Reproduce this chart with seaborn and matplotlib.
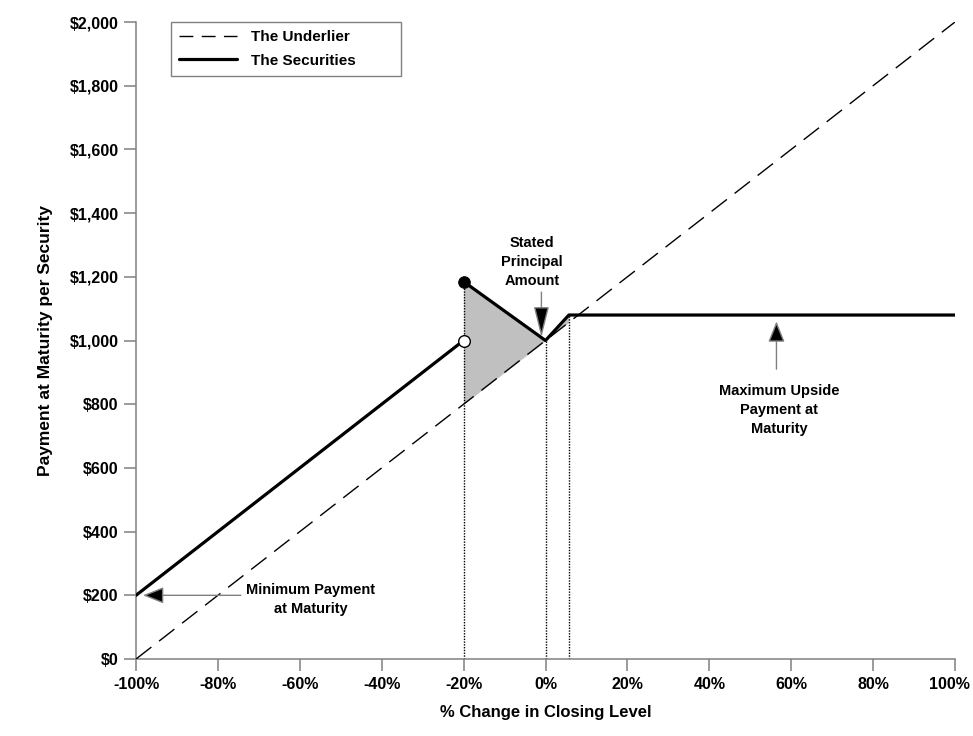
import matplotlib
matplotlib.use("Agg")
import matplotlib.pyplot as plt
import matplotlib.transforms as mtransforms
import seaborn as sns
import pandas as pd
from matplotlib.lines import Line2D

# data
underlier_x = [-100, 100]
underlier_y = [0, 2000]

low_x = [-100, -20]          # securities, below the -20% barrier
low_y = [200, 1000]
high_x = [-20, 0, 5.7, 100]  # securities, above the barrier
high_y = [1185, 1000, 1080, 1080]
shade_floor = [800, 1000, 1057]  # underlier level at the first three high_x points

x_ticks = [-100, -80, -60, -40, -20, 0, 20, 40, 60, 80, 100]
x_labels = ["-100%", "-80%", "-60%", "-40%", "-20%", "0%", "20%", "40%", "60%", "80%", "100%"]
y_ticks = [0, 200, 400, 600, 800, 1000, 1200, 1400, 1600, 1800, 2000]
y_labels = ["$0", "$200", "$400", "$600", "$800", "$1,000", "$1,200", "$1,400",
            "$1,600", "$1,800", "$2,000"]

sns.set_style("ticks")
plt.rcParams["font.family"] = ["Liberation Sans", "DejaVu Sans"]
plt.rcParams["font.weight"] = "bold"
plt.rcParams["text.color"] = "black"
plt.rcParams["axes.labelcolor"] = "black"
plt.rcParams["xtick.labelcolor"] = "black"
plt.rcParams["ytick.labelcolor"] = "black"

GREY = "#808080"

fig = plt.figure(figsize=(9.73, 7.36), dpi=100)
ax = fig.add_axes([0.1398, 0.1046, 0.8417, 0.8655])

# shaded area between securities and underlier
ax.fill_between(high_x[:3], high_y[:3], shade_floor, color="#c0c0c0", lw=0, zorder=1)

# dotted guide lines
for xv, yv in zip(high_x[:3], high_y[:3]):
    ax.plot([xv, xv], [0, yv], color="black", ls=(0, (1.0, 1.0)), lw=1, zorder=2)

und = pd.DataFrame({"x": underlier_x, "y": underlier_y})
sns.lineplot(data=und, x="x", y="y", ax=ax, color="black", lw=1.0,
             linestyle=(0, (14, 7)), zorder=3)

sec_low = pd.DataFrame({"x": low_x, "y": low_y})
sec_high = pd.DataFrame({"x": high_x, "y": high_y})
sns.lineplot(data=sec_low, x="x", y="y", ax=ax, color="black", lw=2.3,
             sort=False, estimator=None, zorder=4)
sns.lineplot(data=sec_high, x="x", y="y", ax=ax, color="black", lw=2.3,
             sort=False, estimator=None, zorder=4)

sns.scatterplot(x=[high_x[0]], y=[high_y[0]], ax=ax, s=70, color="black",
                edgecolor="black", zorder=5)
sns.scatterplot(x=[low_x[1]], y=[low_y[1]], ax=ax, s=70, color="white",
                edgecolor="black", linewidth=1, zorder=5)

# annotations
arrow = dict(arrowstyle="-|>,head_length=0.8,head_width=0.32", fc="black",
             ec=GREY, lw=1, mutation_scale=16, shrinkA=0, shrinkB=0)
long_arrow = dict(arrow, arrowstyle="-|>,head_length=1.2,head_width=0.3")
note = dict(ha="center", va="center", fontsize=10.5, fontweight="bold", linespacing=1.45)

ax.annotate("", xy=(-1, 1010), xytext=(-1, 1152), arrowprops=long_arrow, zorder=6)
ax.text(-3.3, 1246, "Stated\nPrincipal\nAmount", **note)

ax.annotate("", xy=(56.4, 1060), xytext=(56.4, 910), arrowprops=arrow, zorder=6)
ax.text(57, 783, "Maximum Upside\nPayment at\nMaturity", **note)

ax.annotate("", xy=(-98.3, 200), xytext=(-74.4, 200), arrowprops=arrow, zorder=6)
ax.text(-57.3, 188, "Minimum Payment\nat Maturity", **note)

ax.set_xlim(-100, 100)
ax.set_ylim(0, 2000)
ax.set_xticks(x_ticks)
ax.set_xticklabels(x_labels)
ax.set_yticks(y_ticks)
ax.set_yticklabels(y_labels)
ax.tick_params(direction="out", length=8.6, width=1.1, color=GREY, labelsize=11.5, pad=4)
for lab in ax.get_xticklabels() + ax.get_yticklabels():
    lab.set_fontweight("bold")

# last x label sits a little left of its tick, as in the original
last = ax.get_xticklabels()[-1]
last.set_transform(last.get_transform() +
                   mtransforms.ScaledTranslation(-6 / 100, 0, fig.dpi_scale_trans))

sns.despine(ax=ax)
for side in ["left", "bottom"]:
    ax.spines[side].set_color(GREY)
    ax.spines[side].set_linewidth(1.1)

ax.set_xlabel("% Change in Closing Level", fontsize=12, fontweight="bold", labelpad=10)
ax.set_ylabel("Payment at Maturity per Security", fontsize=12.5, fontweight="bold", labelpad=12)

handles = [Line2D([], [], color="black", lw=1.0, ls=(0, (10, 6))),
           Line2D([], [], color="black", lw=2.3)]
leg = ax.legend(handles, ["The Underlier", "The Securities"], loc="upper left",
                bbox_to_anchor=(0.0427, 0.0, 0.281, 1.0), mode="expand",
                fancybox=False, framealpha=1, edgecolor=GREY,
                handlelength=3.8, handletextpad=0.9, borderaxespad=0,
                borderpad=0.55, labelspacing=0.6, prop={"weight": "bold", "size": 11})
leg.get_frame().set_linewidth(1.0)

fig.savefig("out.png", dpi=100)
